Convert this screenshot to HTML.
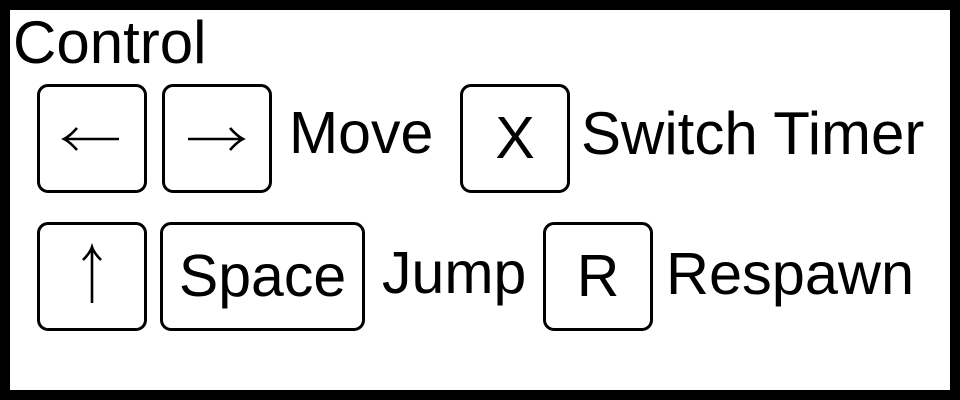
<!DOCTYPE html>
<html><head><meta charset="utf-8"><style>
html,body{margin:0;padding:0}
body{width:960px;height:400px;position:relative;overflow:hidden;background:#000;font-family:"Liberation Sans",Arial,sans-serif}
#panel{position:absolute;left:10px;top:10px;width:940px;height:380px;background:#fff}
.t{position:absolute;font-size:59px;line-height:1;color:#000;white-space:nowrap}
.k{position:absolute;box-sizing:border-box;border:3.5px solid #000;border-radius:11px;display:flex;align-items:center;justify-content:center;font-size:59px;line-height:1;color:#000;background:#fff}
svg{position:absolute;left:0;top:0}
</style></head><body>
<div id="panel"></div>
<div class="t" style="left:13px;top:13px;font-size:60px">Control</div>

<div class="k" style="left:37px;top:84px;width:110px;height:109px"></div>
<div class="k" style="left:162px;top:84px;width:110px;height:109px"></div>
<div class="t" style="left:289px;top:104px">Move</div>
<div class="k" style="left:460px;top:84px;width:110px;height:109px">X</div>
<div class="t" style="left:581px;top:104px;font-size:60px">Switch Timer</div>

<div class="k" style="left:37px;top:222px;width:110px;height:109px"></div>
<div class="k" style="left:160px;top:222px;width:205px;height:109px">Space</div>
<div class="t" style="left:382px;top:244px">Jump</div>
<div class="k" style="left:543px;top:222px;width:110px;height:109px">R</div>
<div class="t" style="left:666px;top:244px;font-size:59.5px">Respawn</div>

<svg width="960" height="400">
  <g stroke="#000" stroke-width="2.6" fill="none">
    <path d="M64 139 H119 M77 128 Q70 136 64 139 Q70 142 77 150"/>
    <path d="M188 139 H243 M230 128 Q237 136 243 139 Q237 142 230 150"/>
    <path d="M92 247 V303 M83 260 Q90 253 92 247 Q94 253 101 260"/>
  </g>
</svg>
</body></html>
